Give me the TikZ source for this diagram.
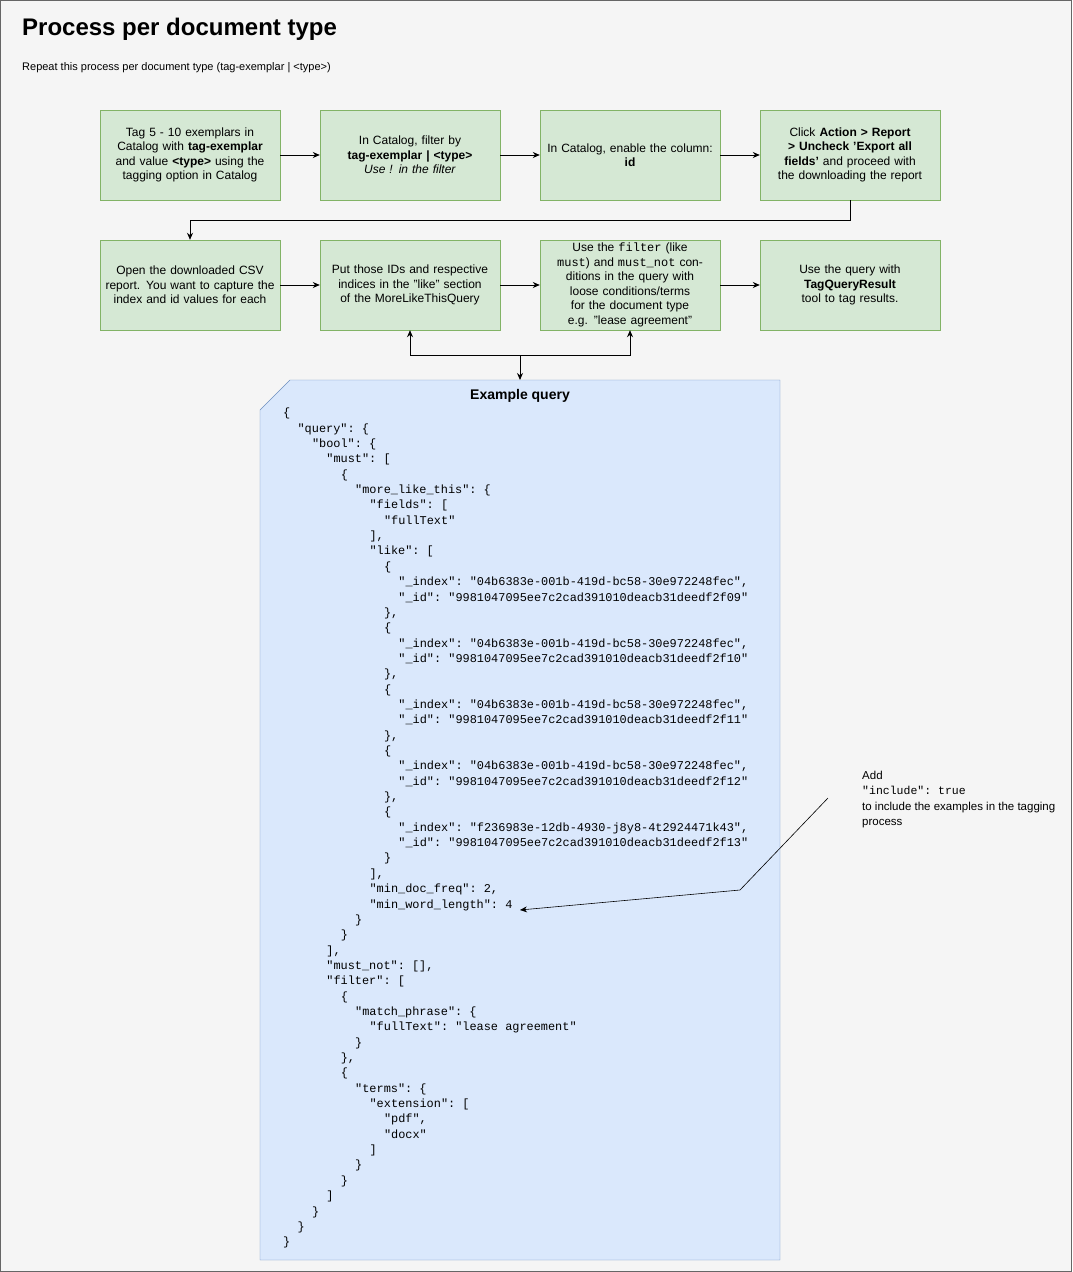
\documentclass[tikz,border=0pt]{standalone}
\usepackage{fontspec}
\setmainfont{Liberation Sans}
\setmonofont{Liberation Mono}
\usetikzlibrary{positioning,calc,arrows.meta}
\definecolor{bgc}{HTML}{F5F5F5}
\definecolor{greenf}{HTML}{D5E8D4}
\definecolor{greend}{HTML}{82B366}
\definecolor{bluef}{HTML}{DAE8FC}
\definecolor{blued}{HTML}{6C8EBF}
\tikzset{
  stage/.style = {draw=greend, fill=greenf, rectangle, minimum height=90pt, minimum width=180pt,
    text width=172pt, align=center, font=\fontsize{12}{14.5}\selectfont, inner sep=0pt},
  to/.style = {-{Stealth[length=7pt,width=6pt]}, line width=0.9pt},
}
\newcommand{\cl}[2]{\hspace*{#1\dimexpr 14.4pt\relax}#2}
\newcommand{\q}{"}

\begin{document}
\begin{tikzpicture}[x=1pt, y=-1pt]
\useasboundingbox (0,0) rectangle (1072,1272);
\draw[fill=bgc, draw=black!60] (0.5,0.5) rectangle (1071.5,1271.5);
\node[anchor=north west, font=\bfseries\fontsize{24}{28}\selectfont, inner sep=0pt] (title) at (22,18) {Process per document type};
\node[anchor=north west, font=\fontsize{11}{13}\selectfont, inner sep=0pt] (sub) at (22,62) {Repeat this process per document type (tag-exemplar | <type>)};
% first row
\node[stage] (tag) at (190,155) {Tag 5 - 10 exemplars in Catalog with \textbf{tag-exemplar} and value \textbf{<type>} using the tagging option in Catalog};
\node[stage] (filt) at (410,155) {In Catalog, filter by\\\textbf{tag-exemplar | <type>}\\\textit{Use ! in the filter}};
\node[stage] (col) at (630,155) {In Catalog, enable the column:\\\textbf{id}};
\node[stage] (rep) at (850,155) {Click \textbf{Action > Report >} \textbf{Uncheck 'Export all fields'} and proceed with the downloading the report};
% second row
\node[stage] (csv) at (190,285) {Open the downloaded CSV report. You want to capture the index and id values for each};
\node[stage] (like) at (410,285) {Put those IDs and respective indices in the "like" section of the MoreLikeThisQuery};
\node[stage] (cond) at (630,285) {Use the \texttt{filter} (like \texttt{must}) and \texttt{must\_not} conditions in the query with loose conditions/terms for the document type\\e.g. "lease agreement"};
\node[stage] (use) at (850,285) {Use the query with \textbf{TagQueryResult} tool to tag results.};
% example query
\draw[draw=blued, fill=bluef] (290,380) -- (780,380) -- (780,1260) -- (260,1260) -- (260,410) -- cycle;
\coordinate (qtop) at (520,380);
\node[font=\bfseries\fontsize{14}{16}\selectfont] (qtitle) at (520,396) {Example query};
\node[anchor=north west, align=left, inner sep=0pt, font=\ttfamily\fontsize{11.9}{15.35}\selectfont] (code) at (283,408) {%
\cl0{\{}\\
\cl1{\q query\q: \{}\\
\cl2{\q bool\q: \{}\\
\cl3{\q must\q: [}\\
\cl4{\{}\\
\cl5{\q more\_like\_this\q: \{}\\
\cl6{\q fields\q: [}\\
\cl7{\q fullText\q}\\
\cl6{],}\\
\cl6{\q like\q: [}\\
\cl7{\{}\\
\cl8{\q\_index\q: \q 04b6383e-001b-419d-bc58-30e972248fec\q,}\\
\cl8{\q\_id\q: \q 9981047095ee7c2cad391010deacb31deedf2f09\q}\\
\cl7{\},}\\
\cl7{\{}\\
\cl8{\q\_index\q: \q 04b6383e-001b-419d-bc58-30e972248fec\q,}\\
\cl8{\q\_id\q: \q 9981047095ee7c2cad391010deacb31deedf2f10\q}\\
\cl7{\},}\\
\cl7{\{}\\
\cl8{\q\_index\q: \q 04b6383e-001b-419d-bc58-30e972248fec\q,}\\
\cl8{\q\_id\q: \q 9981047095ee7c2cad391010deacb31deedf2f11\q}\\
\cl7{\},}\\
\cl7{\{}\\
\cl8{\q\_index\q: \q 04b6383e-001b-419d-bc58-30e972248fec\q,}\\
\cl8{\q\_id\q: \q 9981047095ee7c2cad391010deacb31deedf2f12\q}\\
\cl7{\},}\\
\cl7{\{}\\
\cl8{\q\_index\q: \q f236983e-12db-4930-j8y8-4t2924471k43\q,}\\
\cl8{\q\_id\q: \q 9981047095ee7c2cad391010deacb31deedf2f13\q}\\
\cl7{\}}\\
\cl6{],}\\
\cl6{\q min\_doc\_freq\q: 2,}\\
\cl6{\q min\_word\_length\q: 4}\\
\cl5{\}}\\
\cl4{\}}\\
\cl3{],}\\
\cl3{\q must\_not\q: [],}\\
\cl3{\q filter\q: [}\\
\cl4{\{}\\
\cl5{\q match\_phrase\q: \{}\\
\cl6{\q fullText\q: \q lease agreement\q}\\
\cl5{\}}\\
\cl4{\},}\\
\cl4{\{}\\
\cl5{\q terms\q: \{}\\
\cl6{\q extension\q: [}\\
\cl7{\q pdf\q,}\\
\cl7{\q docx\q}\\
\cl6{]}\\
\cl5{\}}\\
\cl4{\}}\\
\cl3{]}\\
\cl2{\}}\\
\cl1{\}}\\
\cl0{\}}};
\coordinate (mwl) at (520,910);
% note
\node[anchor=north west, align=left, inner sep=0pt, font=\fontsize{11.5}{15.3}\selectfont] (note) at (862,771) {Add\\\texttt{\q include\q: true}\\to include the examples in the tagging\\process};
\coordinate (notept) at (828,798);
% connectors
\draw[to] (tag) -- (filt);
\draw[to] (filt) -- (col);
\draw[to] (col) -- (rep);
\draw[to] (rep.south) -- ++(0,20) -| (csv.north);
\draw[to] (csv) -- (like);
\draw[to] (like) -- (cond);
\draw[to] (cond) -- (use);
\coordinate (split) at (520,355);
\draw[to] (split) -- (qtop);
\draw[to] (split) -| (like.south);
\draw[to] (split) -| (cond.south);
\draw[to, line width=0.6pt] (notept) -- (740,890) -- (mwl);
\end{tikzpicture}
\end{document}
